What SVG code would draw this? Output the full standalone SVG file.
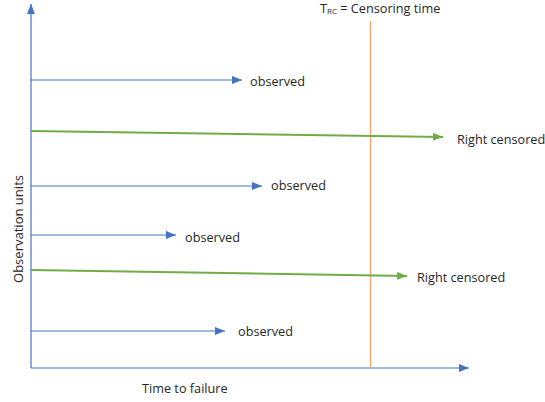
<svg xmlns="http://www.w3.org/2000/svg" width="545" height="402" viewBox="0 0 545 402">
<style>
text{font-family:"Open Sans","Liberation Sans",sans-serif;font-size:12.7px;fill:#262626}
.b{stroke:#4472C4;stroke-width:1.2;fill:none}
.g{stroke:#70AD47;stroke-width:2;fill:none}
</style>
<defs>
<marker id="ab" markerWidth="10" markerHeight="8" refX="10" refY="4" orient="auto" markerUnits="userSpaceOnUse"><path d="M0,0 L10,4 L0,8 z" fill="#4472C4"/></marker>
<marker id="ag" markerWidth="10" markerHeight="8" refX="10" refY="4" orient="auto" markerUnits="userSpaceOnUse"><path d="M0,0 L10,4 L0,8 z" fill="#70AD47"/></marker>
</defs>
<rect width="545" height="402" fill="#fff"/>
<g id="axes">
<line class="b" x1="31" y1="368" x2="31" y2="4" marker-end="url(#ab)"/>
<line class="b" x1="31" y1="368" x2="469" y2="368" marker-end="url(#ab)"/>
<text x="142" y="393">Time to failure</text>
<text transform="translate(23,229) rotate(-90)" text-anchor="middle" textLength="108" lengthAdjust="spacingAndGlyphs">Observation units</text>
</g>
<g id="censoring">
<line x1="370.5" y1="21" x2="370.5" y2="368" stroke="#F4A36B" stroke-width="1.3"/>
<text x="320" y="13" font-size="13.8">T<tspan font-size="8" dy="1">RC</tspan><tspan dy="-1"> = Censoring time</tspan></text>
</g>
<g id="connectors">
<line class="b" x1="31" y1="80" x2="242" y2="80" marker-end="url(#ab)"/>
<line class="g" x1="31" y1="131" x2="443" y2="137" marker-end="url(#ag)"/>
<line class="b" x1="31" y1="186" x2="262" y2="186" marker-end="url(#ab)"/>
<line class="b" x1="31" y1="235" x2="176" y2="235" marker-end="url(#ab)"/>
<line class="g" x1="31" y1="270" x2="407" y2="276" marker-end="url(#ag)"/>
<line class="b" x1="31" y1="331" x2="225" y2="331" marker-end="url(#ab)"/>
</g>
<g id="n1"><text x="250" y="86">observed</text></g>
<g id="n2"><text x="457" y="144">Right censored</text></g>
<g id="n3"><text x="271" y="190">observed</text></g>
<g id="n4"><text x="185" y="242">observed</text></g>
<g id="n5"><text x="417" y="282">Right censored</text></g>
<g id="n6"><text x="238" y="336">observed</text></g>
</svg>
